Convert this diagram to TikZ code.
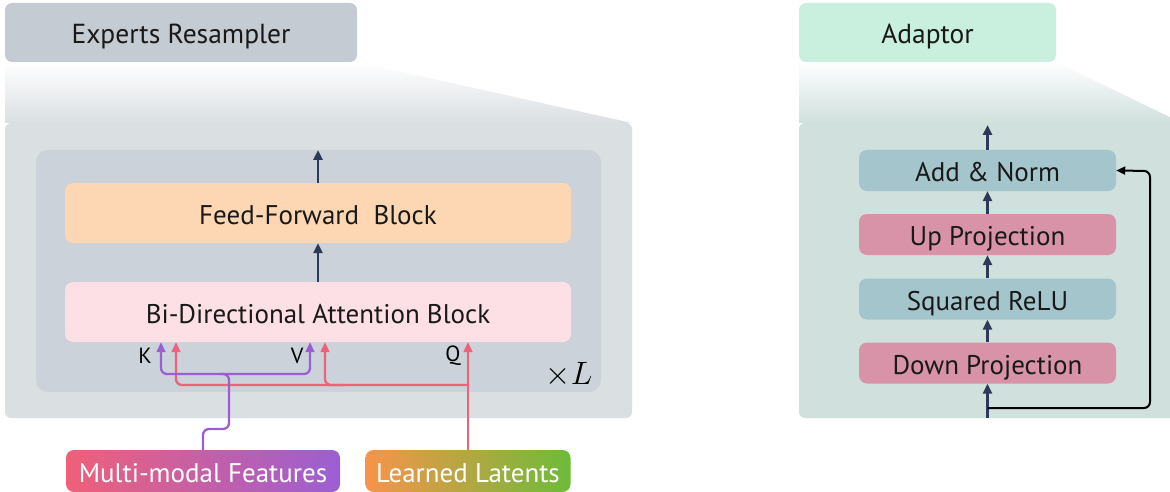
\documentclass[tikz,border=0pt]{standalone}
\usepackage{fontspec}
\setmainfont{PT Sans}
\usetikzlibrary{arrows.meta}

\definecolor{hdrgray}{HTML}{C5CBD3}
\definecolor{outgray}{HTML}{DADFE2}
\definecolor{ingray}{HTML}{CBD2D9}
\definecolor{peach}{HTML}{FDD6B3}
\definecolor{lightpink}{HTML}{FCE0E5}
\definecolor{mint}{HTML}{C9F0DE}
\definecolor{outteal}{HTML}{CFE0DD}
\definecolor{tealbox}{HTML}{A4C5CC}
\definecolor{pinkbox}{HTML}{D893A8}
\definecolor{navy}{HTML}{2C3A57}
\definecolor{purp}{HTML}{9B5FD3}
\definecolor{redl}{HTML}{EF6079}
\definecolor{orng}{HTML}{F7944A}
\definecolor{grn}{HTML}{6DBB3A}

\begin{document}
\begin{tikzpicture}[x=1pt, y=-1pt,
    txt/.style={font=\fontsize{27}{32}\selectfont, text=black!90, inner sep=0pt,
      text height=22pt, text depth=0pt},
    hdr/.style={txt, font=\fontsize{27.5}{32}\selectfont, rounded corners=7pt, minimum height=59pt},
    blk/.style={txt, rounded corners=8pt, minimum width=506pt, minimum height=60pt},
    ablk/.style={txt, rounded corners=8pt, minimum width=257pt, minimum height=41pt},
    src/.style={txt, text=white, rounded corners=8pt, minimum height=42pt},
    lbl/.style={font=\fontsize{22}{24}\selectfont, inner sep=0pt},
    navyarr/.style={draw=navy, line width=2.5pt, -{Triangle[length=10pt,width=9pt]}},
    purparr/.style={draw=purp, line width=2.3pt, rounded corners=6pt, -{Triangle[length=10pt,width=8.5pt]}},
    redarr/.style={draw=redl, line width=2.3pt, rounded corners=6pt, -{Triangle[length=10pt,width=8.5pt]}},
  ]
  \useasboundingbox (0,0) rectangle (1170,492);

  % experts resampler
  \shade [top color=white, bottom color=outgray] (5,62) -- (357,62) -- (632,123) -- (5,123) -- cycle;
  \fill [outgray, rounded corners=6pt] (5,123) rectangle (632,418);
  \fill [ingray, rounded corners=12pt] (36,150) rectangle (601,392);
  \node (hdrA) at (181,32.5) [hdr, fill=hdrgray, minimum width=352pt] {Experts Resampler};

  \node (ff) at (318,213) [blk, fill=peach] {Feed-Forward\ \ Block};
  \node (bda) at (318,312) [blk, fill=lightpink] {Bi-Directional Attention Block};
  \coordinate (outA) at (318,150);
  \draw [navyarr] (ff.north) -- (outA);
  \draw [navyarr] (bda.north) -- (ff.south);

  \node (kl) at (145,356) [lbl] {K};
  \node (vl) at (297,356) [lbl] {V};
  \node (ql) at (453,356) [lbl] {Q};
  \node (rep) at (569,375) [inner sep=0pt] {\scalebox{1.3}{\fontsize{24}{28}\selectfont$\times L$}};

  \node (mm) at (203,471) [src, left color=redl, right color=purp, minimum width=274pt] {Multi-modal Features};
  \node (ll) at (468,471) [src, left color=orng, right color=grn, minimum width=205pt] {Learned Latents};

  \coordinate (kp) at (161,342);
  \coordinate (kr) at (176,342);
  \coordinate (vp) at (310,342);
  \coordinate (vr) at (325,342);
  \coordinate (qr) at (468,342);
  \draw [redarr] (ll.north) -- (qr);
  \draw [redarr] (468,385) -- (176,385) -- (kr);
  \draw [redarr] (345,385) -- (325,385) -- (vr);
  \draw [purparr] (mm.north) -- (203,429) -- (229,429) -- (229,374) -- (161,374) -- (kp);
  \draw [purparr] (220,374) -- (310,374) -- (vp);

  % adaptor
  \begin{scope}
    \clip (0,0) rectangle (1170,492);
    \shade [top color=white, bottom color=outteal] (799,62) -- (1056,62) -- (1180,122) -- (1180,123) -- (799,123) -- cycle;
    \fill [outteal, rounded corners=6pt] (799,123) rectangle (1190,418);
  \end{scope}
  \node (hdrB) at (927.5,32.5) [hdr, fill=mint, minimum width=257pt] {Adaptor};

  \node (an) at (987.5,170.5) [ablk, fill=tealbox] {Add \& Norm};
  \node (up) at (987.5,234.5) [ablk, fill=pinkbox] {Up Projection};
  \node (sq) at (987.5,299) [ablk, fill=tealbox] {Squared ReLU};
  \node (dp) at (987.5,363) [ablk, fill=pinkbox] {Down Projection};
  \coordinate (inB) at (987.5,418);
  \coordinate (outB) at (987.5,125);
  \draw [navyarr] (inB) -- (dp);
  \draw [navyarr] (dp) -- (sq);
  \draw [navyarr] (sq) -- (up);
  \draw [navyarr] (up) -- (an);
  \draw [navyarr] (an) -- (outB);
  \draw [black, line width=2pt, rounded corners=6pt, -{Triangle[length=9pt,width=8pt]}]
    (987.5,408) -- (1150,408) -- (1150,171) -- (an.east);
\end{tikzpicture}
\end{document}
